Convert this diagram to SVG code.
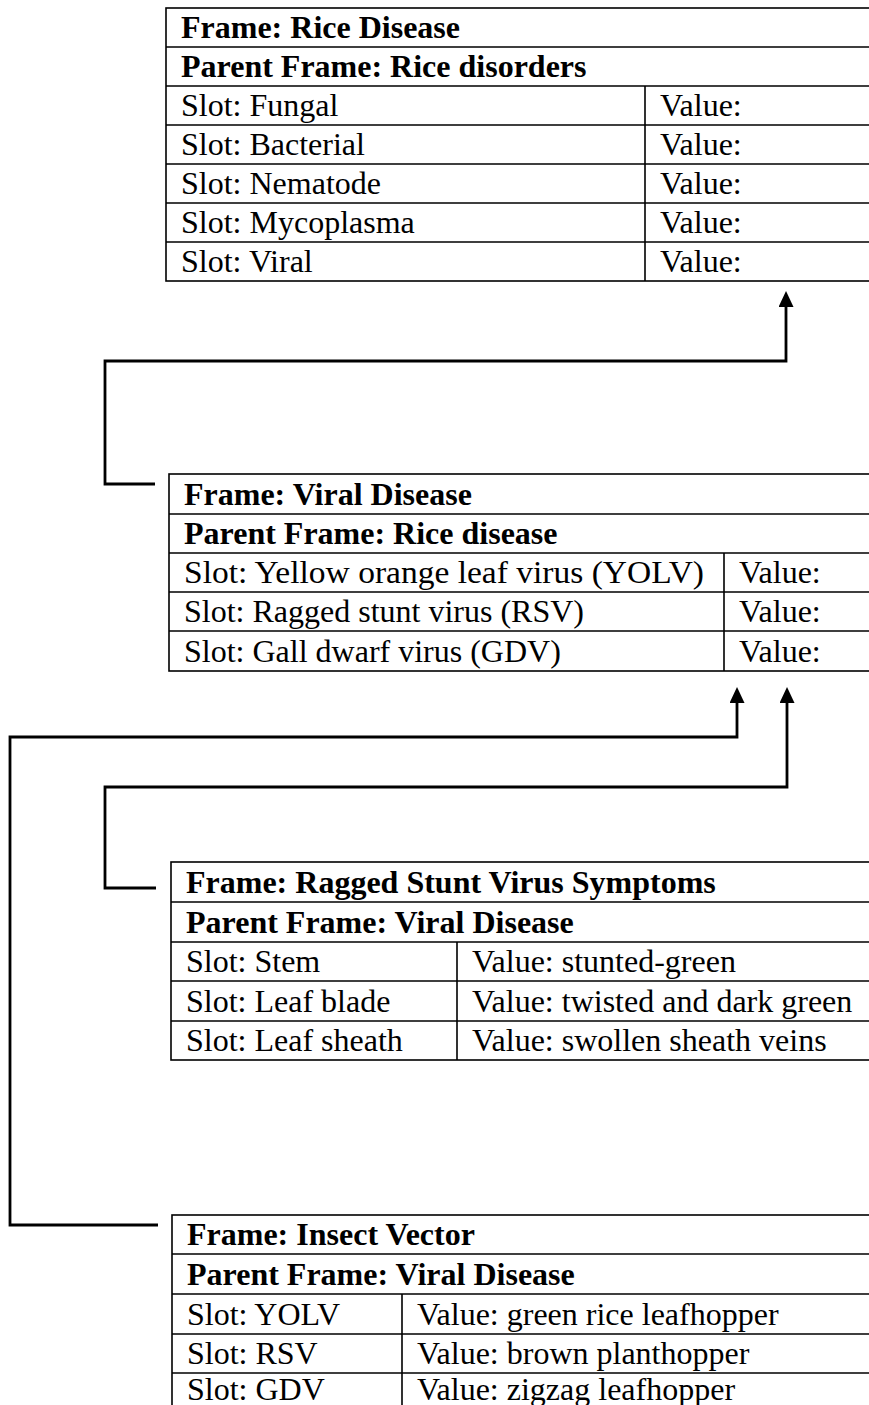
<svg xmlns="http://www.w3.org/2000/svg" width="869" height="1405" viewBox="0 0 869 1405">
  <style>
    .cell { fill: none; stroke: #000; stroke-width: 1.6; }
    .rule { stroke: #000; stroke-width: 1.6; }
    .wire { fill: none; stroke: #000; stroke-width: 2.8; stroke-linejoin: miter; }
    text { font-family: "Liberation Serif", "Times New Roman", serif; font-size: 32px; fill: #000; }
    .head { font-weight: bold; }
  </style>
  <defs>
    <marker id="arrow" markerUnits="userSpaceOnUse" markerWidth="16" markerHeight="15" viewBox="0 0 16 15" refX="2" refY="7.5" orient="auto">
      <path d="M0,0 L16,7.5 L0,15 z" fill="#000"/>
    </marker>
  </defs>
  <rect width="869" height="1405" fill="#fff"/>

  <!-- Frame: Rice Disease -->
  <g id="frame-rice-disease">
    <rect class="cell" x="166" y="8" width="720" height="273"/>
    <path class="rule" d="M166,47 H869 M166,86 H869 M166,125 H869 M166,164 H869 M166,203 H869 M166,242 H869 M645,86 V281"/>
    <text class="head" x="181" y="38">Frame: Rice Disease</text>
    <text class="head" x="181" y="77">Parent Frame: Rice disorders</text>
    <text x="181" y="116">Slot: Fungal</text>
    <text x="181" y="155">Slot: Bacterial</text>
    <text x="181" y="194">Slot: Nematode</text>
    <text x="181" y="233">Slot: Mycoplasma</text>
    <text x="181" y="272">Slot: Viral</text>
    <text x="660" y="116">Value:</text>
    <text x="660" y="155">Value:</text>
    <text x="660" y="194">Value:</text>
    <text x="660" y="233">Value:</text>
    <text x="660" y="272">Value:</text>
  </g>

  <!-- Frame: Viral Disease -->
  <g id="frame-viral-disease">
    <rect class="cell" x="169" y="474" width="720" height="197"/>
    <path class="rule" d="M169,514 H869 M169,553 H869 M169,592 H869 M169,631 H869 M724,553 V671"/>
    <text class="head" x="184" y="505">Frame: Viral Disease</text>
    <text class="head" x="184" y="544">Parent Frame: Rice disease</text>
    <text x="184" y="583" textLength="520" lengthAdjust="spacingAndGlyphs">Slot: Yellow orange leaf virus (YOLV)</text>
    <text x="184" y="622">Slot: Ragged stunt virus (RSV)</text>
    <text x="184" y="662">Slot: Gall dwarf virus (GDV)</text>
    <text x="739" y="583">Value:</text>
    <text x="739" y="622">Value:</text>
    <text x="739" y="662">Value:</text>
  </g>

  <!-- Frame: Ragged Stunt Virus Symptoms -->
  <g id="frame-rsv-symptoms">
    <rect class="cell" x="171" y="862" width="720" height="198"/>
    <path class="rule" d="M171,902 H869 M171,942 H869 M171,981 H869 M171,1021 H869 M457,942 V1060"/>
    <text class="head" x="186" y="893">Frame: Ragged Stunt Virus Symptoms</text>
    <text class="head" x="186" y="933">Parent Frame: Viral Disease</text>
    <text x="186" y="972">Slot: Stem</text>
    <text x="186" y="1012">Slot: Leaf blade</text>
    <text x="186" y="1051">Slot: Leaf sheath</text>
    <text x="472" y="972">Value: stunted-green</text>
    <text x="472" y="1012">Value: twisted and dark green</text>
    <text x="472" y="1051">Value: swollen sheath veins</text>
  </g>

  <!-- Frame: Insect Vector -->
  <g id="frame-insect-vector">
    <rect class="cell" x="172" y="1215" width="720" height="220"/>
    <path class="rule" d="M172,1254 H869 M172,1294 H869 M172,1334 H869 M172,1373 H869 M402,1294 V1420"/>
    <text class="head" x="187" y="1245">Frame: Insect Vector</text>
    <text class="head" x="187" y="1285">Parent Frame: Viral Disease</text>
    <text x="187" y="1325">Slot: YOLV</text>
    <text x="187" y="1364">Slot: RSV</text>
    <text x="187" y="1400">Slot: GDV</text>
    <text x="417" y="1325">Value: green rice leafhopper</text>
    <text x="417" y="1364">Value: brown planthopper</text>
    <text x="417" y="1400">Value: zigzag leafhopper</text>
  </g>

  <!-- parent links -->
  <g id="connectors">
    <path class="wire" d="M155,484 H105 V361 H786 V305" marker-end="url(#arrow)"/>
    <path class="wire" d="M156,888 H105 V787 H787 V701" marker-end="url(#arrow)"/>
    <path class="wire" d="M158,1225 H10 V737 H737 V701" marker-end="url(#arrow)"/>
  </g>
</svg>
